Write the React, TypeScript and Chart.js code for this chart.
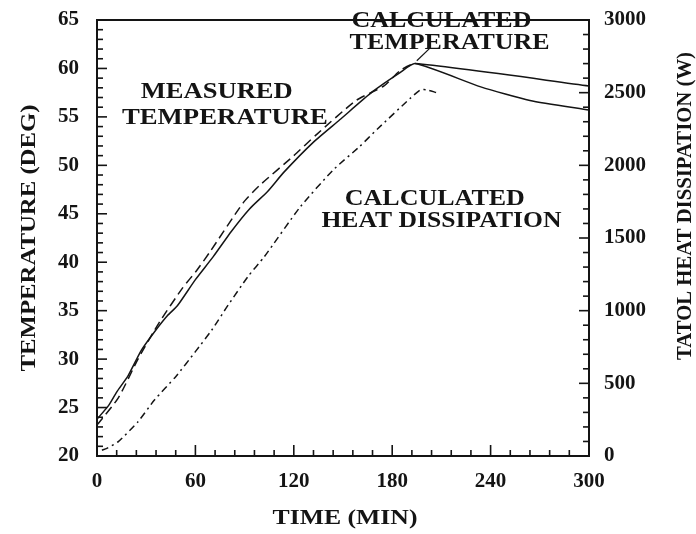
import React, { useEffect, useRef } from "react";
import { Chart, registerables } from "chart.js";

Chart.register(...registerables);

// ---- Data ----
const measuredTime = [0, 7, 12, 19, 27, 35, 43, 49, 60, 71, 82, 93, 104, 114, 132, 148, 168, 185, 194, 234, 264, 300];
const measuredTemp = [23.8, 25.2, 26.6, 28.3, 30.9, 32.8, 34.5, 35.5, 38.2, 40.6, 43.2, 45.5, 47.3, 49.3, 52.4, 54.7, 57.6, 59.6, 60.5, 58.1, 56.7, 55.7];

const calcTime = [0, 13, 25, 38, 52, 61, 69, 89, 99, 120, 134, 158, 175, 185, 194, 300];
const calcTemp = [23.2, 26.0, 30.0, 33.8, 37.3, 39.2, 41.1, 46.1, 47.9, 51.0, 53.2, 56.7, 58.2, 59.8, 60.5, 58.2];
const calcPeakTime = 194;

const heatTime = [3, 6, 13, 25, 35, 48, 60, 70, 80, 92, 102, 124, 144, 160, 171, 191, 197, 201, 207];
const heatWatts = [40, 53, 99, 236, 385, 546, 718, 867, 1039, 1234, 1371, 1715, 1968, 2128, 2250, 2461, 2518, 2520, 2500];

const timeRange = [0, 300];
const timeMajorStep = 60;
const timeMinorStep = 12;
const tempRange = [20, 65];
const tempMajorStep = 5;
const tempMinorStep = 1;
const heatRange = [0, 3000];
const heatMajorStep = 500;
const heatMinorStep = 100;

const xTitle = "TIME (MIN)";
const yTitle = "TEMPERATURE (DEG)";
const y1Title = "TATOL HEAT DISSIPATION (W)";

// annotation labels: text, anchor in data space (time, temperature), target width
const labelTexts = ["MEASURED", "TEMPERATURE", "CALCULATED", "TEMPERATURE", "CALCULATED", "HEAT DISSIPATION"];
const labelTimes = [73, 78, 210, 215, 206, 210];
const labelTemps = [57.6, 54.9, 64.9, 62.6, 46.5, 44.2];
const labelWidths = [152, 206, 180, 200, 180, 240];

const INK = "#141414";
const SERIF = "'Liberation Serif', 'Times New Roman', serif";

function toPoints(xs: number[], ys: number[]) {
  return xs.map((x, i) => ({ x, y: ys[i] }));
}

function drawFitted(
  ctx: CanvasRenderingContext2D,
  text: string,
  cx: number,
  cy: number,
  width: number,
  font: string,
  rot = 0
) {
  ctx.save();
  ctx.translate(cx, cy);
  ctx.rotate(rot);
  ctx.font = font;
  const m = ctx.measureText(text).width;
  ctx.scale(width / m, 1);
  ctx.textAlign = "center";
  ctx.textBaseline = "middle";
  ctx.fillStyle = INK;
  ctx.fillText(text, 0, 0);
  ctx.restore();
}

function strokeSeg(ctx: CanvasRenderingContext2D, x0: number, y0: number, x1: number, y1: number) {
  ctx.beginPath();
  ctx.moveTo(x0, y0);
  ctx.lineTo(x1, y1);
  ctx.stroke();
}

const decorPlugin = {
  id: "decor",
  afterDraw(chart: any) {
    const ctx: CanvasRenderingContext2D = chart.ctx;
    const a = chart.chartArea;
    const sx = chart.scales.x;
    const sy = chart.scales.y;
    const sy1 = chart.scales.y1;
    ctx.save();
    ctx.setLineDash([]);
    ctx.strokeStyle = INK;
    ctx.lineWidth = 2;
    ctx.strokeRect(a.left, a.top, a.right - a.left, a.bottom - a.top);

    ctx.lineWidth = 1.6;
    for (let v = timeRange[0]; v <= timeRange[1]; v += timeMinorStep) {
      const p = sx.getPixelForValue(v);
      const len = v % timeMajorStep === 0 ? 11 : 6;
      strokeSeg(ctx, p, a.bottom, p, a.bottom - len);
    }
    for (let v = tempRange[0]; v <= tempRange[1]; v += tempMinorStep) {
      const p = sy.getPixelForValue(v);
      const len = v % tempMajorStep === 0 ? 10 : 6;
      strokeSeg(ctx, a.left, p, a.left + len, p);
    }
    for (let v = heatRange[0]; v <= heatRange[1]; v += heatMinorStep) {
      const p = sy1.getPixelForValue(v);
      const len = v % heatMajorStep === 0 ? 10 : 6;
      strokeSeg(ctx, a.right, p, a.right - len, p);
    }

    // leader from calculated peak to its label
    ctx.lineWidth = 1.2;
    strokeSeg(
      ctx,
      sx.getPixelForValue(calcPeakTime + 1),
      sy.getPixelForValue(60.8),
      sx.getPixelForValue(calcPeakTime + 9),
      sy.getPixelForValue(62.1)
    );
    ctx.restore();

    const labelFont = `bold 23px ${SERIF}`;
    labelTexts.forEach((t, i) => {
      drawFitted(
        ctx,
        t,
        sx.getPixelForValue(labelTimes[i]),
        sy.getPixelForValue(labelTemps[i]),
        labelWidths[i],
        labelFont
      );
    });
    const midY = (a.top + a.bottom) / 2;
    drawFitted(ctx, yTitle, 29, midY, 267, `bold 22px ${SERIF}`, -Math.PI / 2);
    drawFitted(ctx, xTitle, (a.left + a.right) / 2 + 2, 518, 145, `bold 22px ${SERIF}`);
    drawFitted(ctx, y1Title, 686, 206, 308, `bold 20px ${SERIF}`, -Math.PI / 2);
  },
};

const plainNumber = (v: any) => String(v);

const fitVertical = (width: number) => (s: any) => {
  s.width = width;
  s.paddingTop = 0;
  s.paddingBottom = 0;
};

export default function App() {
  const ref = useRef<HTMLCanvasElement | null>(null);

  useEffect(() => {
    if (!ref.current) return;
    const tickFont = { family: SERIF, size: 21, weight: "bold" as const };
    const chart = new Chart(ref.current, {
      type: "line",
      data: {
        datasets: [
          {
            label: "Measured temperature",
            data: toPoints(measuredTime, measuredTemp),
            yAxisID: "y",
            borderColor: INK,
            borderWidth: 1.5,
            pointRadius: 0,
            tension: 0.2,
            fill: false,
          },
          {
            label: "Calculated temperature",
            data: toPoints(calcTime, calcTemp),
            yAxisID: "y",
            borderColor: INK,
            borderWidth: 1.5,
            pointRadius: 0,
            tension: 0.2,
            fill: false,
            segment: {
              borderDash: (c: any) => (c.p0.parsed.x >= calcPeakTime ? [] : [9, 5]),
            },
          },
          {
            label: "Calculated heat dissipation",
            data: toPoints(heatTime, heatWatts),
            yAxisID: "y1",
            borderColor: INK,
            borderWidth: 1.5,
            borderDash: [7, 4, 2, 4],
            pointRadius: 0,
            tension: 0.2,
            fill: false,
          },
        ],
      },
      options: {
        animation: false,
        responsive: false,
        layout: { padding: { top: 20, left: 0, right: 0, bottom: 0 } },
        plugins: {
          legend: { display: false },
          tooltip: { enabled: false },
          title: { display: false },
        },
        scales: {
          x: {
            type: "linear",
            position: "bottom",
            min: timeRange[0],
            max: timeRange[1],
            ticks: { stepSize: timeMajorStep, padding: 13, color: INK, font: tickFont, maxRotation: 0, callback: plainNumber },
            grid: { display: false, drawTicks: false },
            border: { display: false },
            afterFit: (s: any) => {
              s.height = 78;
              s.paddingLeft = 0;
              s.paddingRight = 0;
            },
          },
          y: {
            type: "linear",
            position: "left",
            min: tempRange[0],
            max: tempRange[1],
            ticks: { stepSize: tempMajorStep, padding: 18, color: INK, font: tickFont, callback: plainNumber },
            grid: { display: false, drawTicks: false },
            border: { display: false },
            afterFit: fitVertical(97),
          },
          y1: {
            type: "linear",
            position: "right",
            min: heatRange[0],
            max: heatRange[1],
            ticks: { stepSize: heatMajorStep, padding: 15, color: INK, font: tickFont, callback: plainNumber },
            grid: { display: false, drawTicks: false },
            border: { display: false },
            afterFit: fitVertical(107),
          },
        },
      },
      plugins: [decorPlugin],
    });
    return () => chart.destroy();
  }, []);

  return (
    <div style={{ position: "absolute", left: 0, top: 0, width: 696, height: 534, background: "#fff" }}>
      <canvas ref={ref} width={696} height={534} />
    </div>
  );
}
